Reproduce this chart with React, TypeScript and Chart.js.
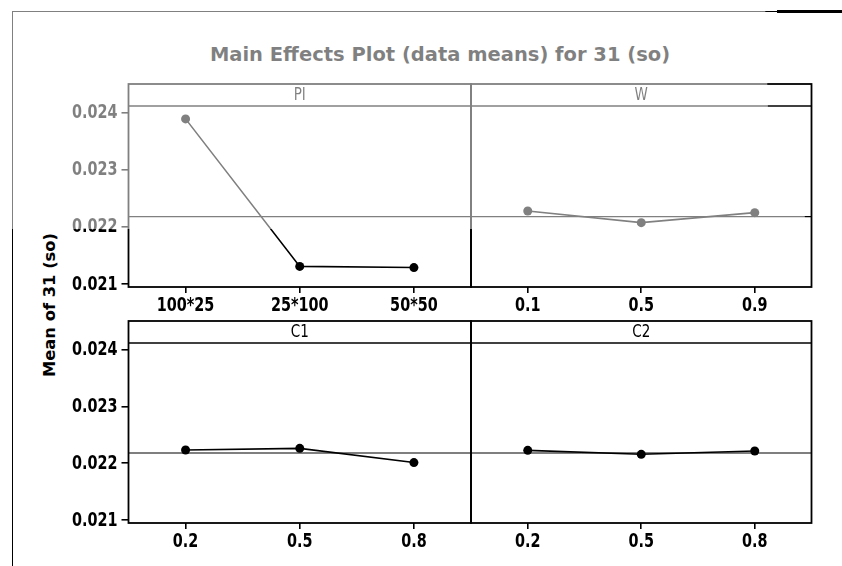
import React, { useEffect, useRef } from "react";
import { Chart, registerables } from "chart.js";

Chart.register(...registerables);

// ---- data ----
const TITLE = "Main Effects Plot (data means) for 31 (so)";
const Y_TITLE = "Mean of 31 (so)";

const PI_LEVELS = ["100*25", "25*100", "50*50"];
const PI_MEANS = [0.02389, 0.02131, 0.02129];

const W_LEVELS = ["0.1", "0.5", "0.9"];
const W_MEANS = [0.02228, 0.022075, 0.02225];

const C1_LEVELS = ["0.2", "0.5", "0.8"];
const C1_MEANS = [0.022233, 0.022262, 0.022012];

const C2_LEVELS = ["0.2", "0.5", "0.8"];
const C2_MEANS = [0.022227, 0.022157, 0.022215];

const GRAND_MEAN = 0.02218;
const Y_TICKS = [0.021, 0.022, 0.023, 0.024];
const Y_TICK_LABELS = ["0.021", "0.022", "0.023", "0.024"];
const Y_MIN = 0.02095;
const Y_MAX = 0.0245;

// ---- layout ----
const PAGE_W = 842;
const PAGE_H = 566;
const COL_X = [128.5, 471, 811.5];
const ROW_Y = [
  [84, 287],
  [321, 523],
];
const HEADER_H = 22;
const TICK_FONT = "bold 16px 'DejaVu Sans Condensed', 'DejaVu Sans', sans-serif";
const HEAD_FONT = "15px 'DejaVu Sans Condensed', 'DejaVu Sans', sans-serif";
const TEXT_SY = 1.2;

type Rect = { left: number; top: number; right: number; bottom: number };

function stretchedText(
  ctx: CanvasRenderingContext2D,
  text: string,
  x: number,
  y: number,
  font: string,
  sy: number,
  align: CanvasTextAlign
) {
  ctx.save();
  ctx.font = font;
  ctx.textAlign = align;
  ctx.textBaseline = "middle";
  ctx.fillStyle = "#000";
  ctx.translate(x, y);
  ctx.scale(1, sy);
  ctx.fillText(text, 0, 0);
  ctx.restore();
}

function Panel(props: {
  name: string;
  levels: string[];
  means: number[];
  rect: Rect;
  showY: boolean;
}) {
  const ref = useRef<HTMLCanvasElement>(null);
  useEffect(() => {
    const { name, levels, means, rect, showY } = props;
    const canvas = ref.current!;
    const panelPlugin = {
      id: "panelDeco",
      beforeDatasetsDraw(chart: any) {
        const { ctx, chartArea } = chart;
        const y = chart.scales.y;
        ctx.save();
        ctx.strokeStyle = "#000";
        // grand mean reference line
        ctx.lineWidth = 1.2;
        const ym = y.getPixelForValue(GRAND_MEAN);
        ctx.beginPath();
        ctx.moveTo(chartArea.left, ym);
        ctx.lineTo(chartArea.right, ym);
        ctx.stroke();
        // header strip line
        ctx.lineWidth = 1.5;
        const yh = chartArea.top + HEADER_H;
        ctx.beginPath();
        ctx.moveTo(chartArea.left, yh);
        ctx.lineTo(chartArea.right, yh);
        ctx.stroke();
        ctx.restore();
        stretchedText(
          ctx,
          name,
          (chartArea.left + chartArea.right) / 2,
          chartArea.top + HEADER_H / 2 + 0.5,
          HEAD_FONT,
          TEXT_SY,
          "center"
        );
      },
      afterDraw(chart: any) {
        const { ctx, chartArea } = chart;
        ctx.save();
        ctx.strokeStyle = "#000";
        ctx.lineWidth = 1.8;
        ctx.strokeRect(
          chartArea.left,
          chartArea.top,
          chartArea.right - chartArea.left,
          chartArea.bottom - chartArea.top
        );
        ctx.restore();
        const xs = chart.scales.x;
        levels.forEach((lab: string, i: number) => {
          stretchedText(ctx, lab, xs.getPixelForValue(i), chartArea.bottom + 19, TICK_FONT, TEXT_SY, "center");
        });
        if (showY) {
          const ys = chart.scales.y;
          Y_TICKS.forEach((v, i) => {
            stretchedText(ctx, Y_TICK_LABELS[i], chartArea.left - 11, ys.getPixelForValue(v) + 0.5, TICK_FONT, TEXT_SY, "right");
          });
        }
      },
    };
    const chart = new Chart(canvas, {
      type: "line",
      data: {
        labels: levels,
        datasets: [
          {
            data: means,
            borderColor: "#000",
            backgroundColor: "#000",
            borderWidth: 1.6,
            pointRadius: 4.5,
            pointBackgroundColor: "#000",
            pointBorderColor: "#000",
            pointBorderWidth: 0,
            tension: 0,
          },
        ],
      },
      options: {
        animation: false,
        responsive: false,
        maintainAspectRatio: false,
        devicePixelRatio: 1,
        events: [],
        layout: {
          padding: {
            left: rect.left,
            top: rect.top,
            right: PAGE_W - rect.right,
            bottom: PAGE_H - rect.bottom,
          },
        },
        plugins: {
          legend: { display: false },
          tooltip: { enabled: false },
          title: { display: false },
        },
        scales: {
          x: {
            type: "category",
            offset: true,
            afterFit: (s: any) => {
              s.height = 0;
            },
            grid: {
              display: true,
              drawOnChartArea: false,
              drawTicks: true,
              tickLength: 6,
              lineWidth: 1.6,
              color: "#000",
              offset: false,
            },
            border: { display: false },
            ticks: { display: false },
          },
          y: {
            type: "linear",
            min: Y_MIN,
            max: Y_MAX,
            afterBuildTicks: (s: any) => {
              s.ticks = Y_TICKS.map((v) => ({ value: v }));
            },
            afterFit: (s: any) => {
              s.width = 0;
            },
            grid: {
              display: showY,
              drawOnChartArea: false,
              drawTicks: true,
              tickLength: 7,
              lineWidth: 1.6,
              color: "#000",
            },
            border: { display: false },
            ticks: { display: false },
          },
        },
      } as any,
      plugins: [panelPlugin],
    });
    return () => chart.destroy();
  }, []);
  return (
    <canvas
      ref={ref}
      width={PAGE_W}
      height={PAGE_H}
      style={{ position: "absolute", left: 0, top: 0, width: PAGE_W, height: PAGE_H }}
    />
  );
}

function rectFor(col: number, row: number): Rect {
  return {
    left: COL_X[col],
    right: COL_X[col + 1],
    top: ROW_Y[row][0],
    bottom: ROW_Y[row][1],
  };
}

export default function App() {
  return (
    <div
      style={{
        position: "absolute",
        left: 0,
        top: 0,
        width: PAGE_W,
        height: PAGE_H,
        background: "#fff",
        overflow: "hidden",
      }}
    >
      {/* page frame */}
      <div style={{ position: "absolute", left: 13, top: 11, width: PAGE_W - 13, height: 0, borderTop: "1.5px solid #000" }} />
      <div style={{ position: "absolute", left: 777, top: 10, width: PAGE_W - 777, height: 0, borderTop: "3px solid #000" }} />
      <div style={{ position: "absolute", left: 12, top: 11, width: 0, height: PAGE_H - 11, borderLeft: "1.5px solid #000" }} />
      {/* title */}
      <div
        style={{
          position: "absolute",
          left: 440,
          top: 55,
          transform: "translate(-50%, -50%)",
          font: "bold 19.5px 'DejaVu Sans', sans-serif",
          lineHeight: "1",
          whiteSpace: "nowrap",
          color: "#000",
        }}
      >
        {TITLE}
      </div>
      {/* y axis title */}
      <div
        style={{
          position: "absolute",
          left: 50,
          top: 305,
          transform: "translate(-50%, -50%) rotate(-90deg) scaleX(1.09)",
          font: "bold 15px 'DejaVu Sans', sans-serif",
          lineHeight: "1",
          whiteSpace: "nowrap",
          color: "#000",
        }}
      >
        {Y_TITLE}
      </div>
      <Panel name="PI" levels={PI_LEVELS} means={PI_MEANS} rect={rectFor(0, 0)} showY={true} />
      <Panel name="W" levels={W_LEVELS} means={W_MEANS} rect={rectFor(1, 0)} showY={false} />
      <Panel name="C1" levels={C1_LEVELS} means={C1_MEANS} rect={rectFor(0, 1)} showY={true} />
      <Panel name="C2" levels={C2_LEVELS} means={C2_MEANS} rect={rectFor(1, 1)} showY={false} />
      {/* faded (watermarked) upper region of the scanned page */}
      <div
        style={{
          position: "absolute",
          left: 0,
          top: 0,
          width: PAGE_W,
          height: 229,
          background: "rgba(255,255,255,0.5)",
          clipPath: "polygon(0 0, 765px 0, 768px 110px, 798px 190px, 808px 229px, 0 229px)",
          pointerEvents: "none",
        }}
      />
    </div>
  );
}
